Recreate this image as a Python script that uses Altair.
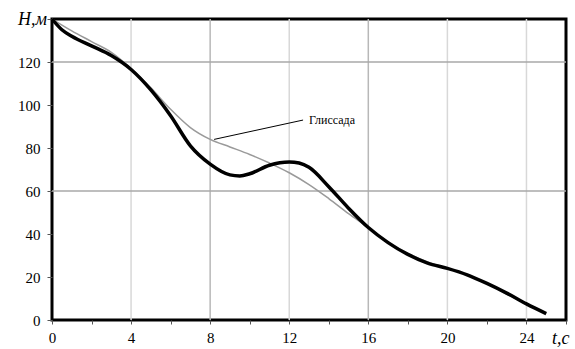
import altair as alt
import pandas as pd

# Actual trajectory (thick black)
t_traj = [0, 0.5, 1, 2, 3, 4, 5, 6, 7, 8, 9, 9.5, 10, 11, 12, 12.5, 13, 14, 15, 16, 17, 18, 19, 20, 21, 22, 23, 24, 25]
h_traj = [140, 135, 132, 127.5, 123, 116.5, 107, 95, 81, 72.5, 67.5, 67, 68, 72, 73.5, 73, 71, 62, 52, 43, 36, 30.5, 26.5, 24, 21, 17, 12.5, 7.5, 3]

# Glide slope (thin gray)
t_glide = [0, 1, 2, 3, 4, 5, 6, 7, 8, 9, 10, 11, 12, 13, 14, 15, 16, 17, 18, 19, 20, 21, 22, 23, 24, 25]
h_glide = [140, 134.5, 129.5, 124.5, 117, 108, 98, 89.5, 84, 80.5, 77, 73, 68.5, 63, 56.5, 49.5, 43, 36, 31, 27, 24, 21, 17, 12, 7.5, 3]

x_minor = [0, 2, 4, 6, 8, 10, 12, 14, 16, 18, 20, 22, 24, 26]
y_ticks = [0, 20, 40, 60, 80, 100, 120, 140]
vgrid_light = [4, 12, 20, 24]
vgrid_dark = [8, 16]
hgrid = [60, 120]

label_text = "Глиссада"
leader_t = [8.2, 12.7]
leader_h = [84, 93]
label_t = 13.0
label_h = 93

FONT = "Liberation Serif"
W, H = 514, 301

xs = alt.Scale(domain=[0, 26], nice=False, zero=False)
ys = alt.Scale(domain=[0, 140], nice=False)

x_axis = alt.Axis(values=x_minor,
                  labelExpr="indexof([0,4,8,12,16,20,24], datum.value) >= 0 ? datum.label : ''",
                  grid=False, domain=False, tickColor="#555", tickSize=4, tickWidth=1,
                  labelFont=FONT, labelFontSize=15, labelColor="black", labelPadding=6,
                  title=None, labelFlush=False)
y_axis = alt.Axis(values=y_ticks, labelExpr="datum.value < 140 ? datum.label : ''",
                  grid=False, domain=False, tickColor="#555", tickSize=5, tickWidth=1,
                  labelFont=FONT, labelFontSize=15, labelColor="black", labelPadding=7,
                  title=None, labelFlush=False)

X = lambda f="t:Q": alt.X(f, scale=xs, axis=x_axis)
Y = lambda f="h:Q": alt.Y(f, scale=ys, axis=y_axis)

traj = pd.DataFrame({"t": t_traj, "h": h_traj})
glide = pd.DataFrame({"t": t_glide, "h": h_glide})

base_xy = alt.Chart(traj).mark_point(opacity=0).encode(x=X(), y=Y())

vl = alt.Chart(pd.DataFrame({"t": vgrid_light})).mark_rule(color="#d8d8d8", strokeWidth=1.5).encode(x=X())
vd = alt.Chart(pd.DataFrame({"t": vgrid_dark})).mark_rule(color="#b8b8b8", strokeWidth=1.5).encode(x=X())
hg = alt.Chart(pd.DataFrame({"h": hgrid})).mark_rule(color="#a8a8a8", strokeWidth=1.5).encode(y=Y())

glide_line = alt.Chart(glide).mark_line(color="#9a9a9a", strokeWidth=1.5, interpolate="monotone").encode(
    x=X(), y=Y())

traj_line = alt.Chart(traj).mark_line(color="black", strokeWidth=3.5, interpolate="monotone").encode(
    x=X(), y=Y())

leader = alt.Chart(pd.DataFrame({"t": leader_t, "h": leader_h})).mark_line(color="black", strokeWidth=1).encode(
    x=X(), y=Y())

label = alt.Chart(pd.DataFrame({"t": [label_t], "h": [label_h], "s": [label_text]})).mark_text(
    font=FONT, fontSize=12, align="left", baseline="middle", color="black").encode(
    x=X(), y=Y(), text="s:N")

ytitle = alt.Chart(pd.DataFrame({"s": ["H,м"]})).mark_text(
    font=FONT, fontSize=18, fontStyle="italic", align="right", baseline="middle", color="black").encode(
    x=alt.value(-5), y=alt.value(1), text="s:N")
xtitle = alt.Chart(pd.DataFrame({"s": ["t,c"]})).mark_text(
    font=FONT, fontSize=18, fontStyle="italic", align="left", baseline="middle", color="black").encode(
    x=alt.value(W - 14), y=alt.value(H + 19), text="s:N")

chart = alt.layer(base_xy, vl, vd, hg, glide_line, traj_line, leader, label, ytitle, xtitle).properties(
    width=W, height=H,
    autosize=alt.AutoSizeParams(type="none"),
    padding={"left": 52, "top": 19, "right": 9, "bottom": 29},
    background="white",
).configure_view(stroke="black", strokeWidth=3)

chart.save("out.html", embed_options={"renderer": "svg", "actions": False})
